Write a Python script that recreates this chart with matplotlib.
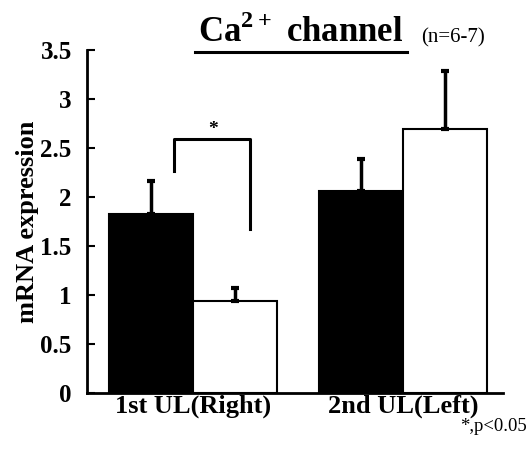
import matplotlib
matplotlib.use("Agg")
import matplotlib.pyplot as plt
from matplotlib.lines import Line2D
import numpy as np

groups = ["1st UL(Right)", "2nd UL(Left)"]
black_vals = [1.83, 2.06]
black_err = [0.33, 0.33]
white_vals = [0.94, 2.69]
white_err = [0.13, 0.60]
yticks = [0, 0.5, 1, 1.5, 2, 2.5, 3, 3.5]
yticklabels = ["0", "0.5", "1", "1.5", "2", "2.5", "3", "3.5"]

plt.rcParams['font.family'] = ['Liberation Serif', 'DejaVu Serif']
plt.rcParams['mathtext.fontset'] = 'custom'
plt.rcParams['mathtext.rm'] = 'Liberation Serif'
plt.rcParams['mathtext.bf'] = 'Liberation Serif:bold'

fig = plt.figure(figsize=(5.28, 4.57), dpi=100)
ax = fig.add_axes([0.1648, 0.140, 0.788, 0.7505])

x = np.arange(len(groups))
w = 0.4
ax.bar(x - w/2, black_vals, width=w, color="black", edgecolor="black", linewidth=1.5)
ax.bar(x + w/2, white_vals, width=w, color="white", edgecolor="black", linewidth=1.5)
ax.errorbar(x - w/2, black_vals, yerr=[np.zeros(2), black_err], fmt="none",
            ecolor="black", elinewidth=2.5, capsize=3, capthick=3)
ax.errorbar(x + w/2, white_vals, yerr=[np.zeros(2), white_err], fmt="none",
            ecolor="black", elinewidth=2.5, capsize=3, capthick=3)

# significance bracket
ax.plot([-0.09, -0.09, 0.27, 0.27], [2.27, 2.59, 2.59, 1.67], color="black", lw=2.2)
ax.text(0.095, 2.60, "*", ha="center", va="bottom", fontsize=14, fontweight="bold")

ax.set_xlim(-0.505, 1.476)
ax.set_ylim(0, 3.5)
ax.set_yticks(yticks)
ax.set_yticklabels(yticklabels, fontsize=18, fontweight="bold")
ax.set_xticks(x)
ax.set_xticklabels(groups, fontsize=19, fontweight="bold")
ax.tick_params(axis="y", direction="in", length=6, width=1.5, pad=11)
ax.tick_params(axis="x", length=0, pad=1)
for s in ["top", "right"]:
    ax.spines[s].set_visible(False)
for s in ["left", "bottom"]:
    ax.spines[s].set_linewidth(2)

fig.text(0.053, 0.514, "mRNA expression", rotation=90, ha="center", va="center",
         fontsize=19, fontweight="bold")
fig.text(0.570, 0.908, "Ca$^{\\mathbf{2+}}$ channel", ha="center", va="baseline",
         fontsize=25, fontweight="bold")
fig.add_artist(Line2D([0.369, 0.771], [0.887, 0.887], color="black", lw=2.2))
fig.text(0.797, 0.908, "(n=6-7)", ha="left", va="baseline", fontsize=15)
fig.text(0.998, 0.066, "*,p<0.05", ha="right", va="center", fontsize=13.5)

fig.savefig("out.png", dpi=100)
